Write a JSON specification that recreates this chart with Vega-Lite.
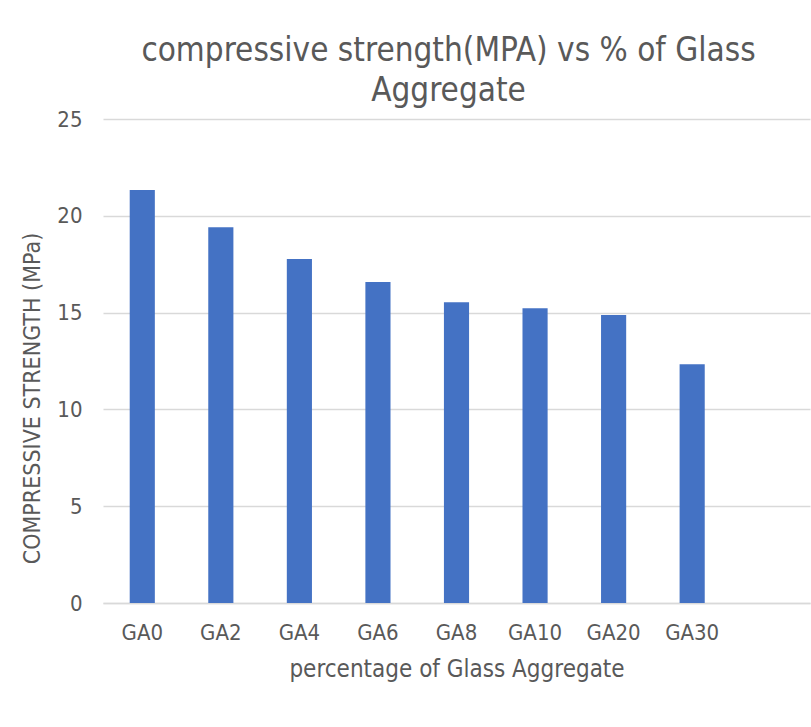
{
  "$schema": "https://vega.github.io/schema/vega-lite/v6.json",
  "autosize": "none",
  "width": 707,
  "height": 484,
  "padding": {"left": 103, "top": 119, "right": 1, "bottom": 124},
  "background": "white",
  "config": {
    "font": "DejaVu Sans Condensed",
    "view": {"stroke": null}
  },
  "title": {
    "text": ["compressive strength(MPA) vs % of Glass", "Aggregate"],
    "fontSize": 33,
    "fontWeight": "normal",
    "color": "#595959",
    "font": "DejaVu Sans Condensed",
    "anchor": "middle",
    "dx": -8,
    "offset": 0,
    "lineHeight": 40
  },
  "data": {
    "values": [
      {"mix": "GA0", "strength": 21.33},
      {"mix": "GA2", "strength": 19.41},
      {"mix": "GA4", "strength": 17.77},
      {"mix": "GA6", "strength": 16.58},
      {"mix": "GA8", "strength": 15.53},
      {"mix": "GA10", "strength": 15.22},
      {"mix": "GA20", "strength": 14.88},
      {"mix": "GA30", "strength": 12.33}
    ]
  },
  "mark": {"type": "bar", "color": "#4472c4"},
  "encoding": {
    "x": {
      "field": "mix",
      "type": "nominal",
      "sort": null,
      "scale": {
        "domain": ["GA0", "GA2", "GA4", "GA6", "GA8", "GA10", "GA20", "GA30", " "],
        "paddingInner": 0.68,
        "paddingOuter": 0.34
      },
      "axis": {
        "title": "percentage of Glass Aggregate",
        "titleFontSize": 24,
        "titleFontWeight": "normal",
        "titleColor": "#595959",
        "titlePadding": 14,
        "labelAngle": 0,
        "labelFontSize": 22,
        "labelColor": "#595959",
        "labelPadding": 19,
        "ticks": false,
        "domainColor": "#d9d9d9",
        "domainWidth": 1.5
      }
    },
    "y": {
      "field": "strength",
      "type": "quantitative",
      "scale": {"domain": [0, 25]},
      "axis": {
        "title": "COMPRESSIVE STRENGTH (MPa)",
        "titleFontSize": 23,
        "titleFontWeight": "normal",
        "titleColor": "#595959",
        "titleAngle": -90,
        "titleAlign": "center",
        "titleBaseline": "middle",
        "titleX": -71,
        "titleY": 279,
        "values": [0, 5, 10, 15, 20, 25],
        "labelFontSize": 22,
        "labelColor": "#595959",
        "labelPadding": 21,
        "ticks": false,
        "domain": false,
        "gridColor": "#d9d9d9",
        "gridWidth": 1.5
      }
    }
  }
}
